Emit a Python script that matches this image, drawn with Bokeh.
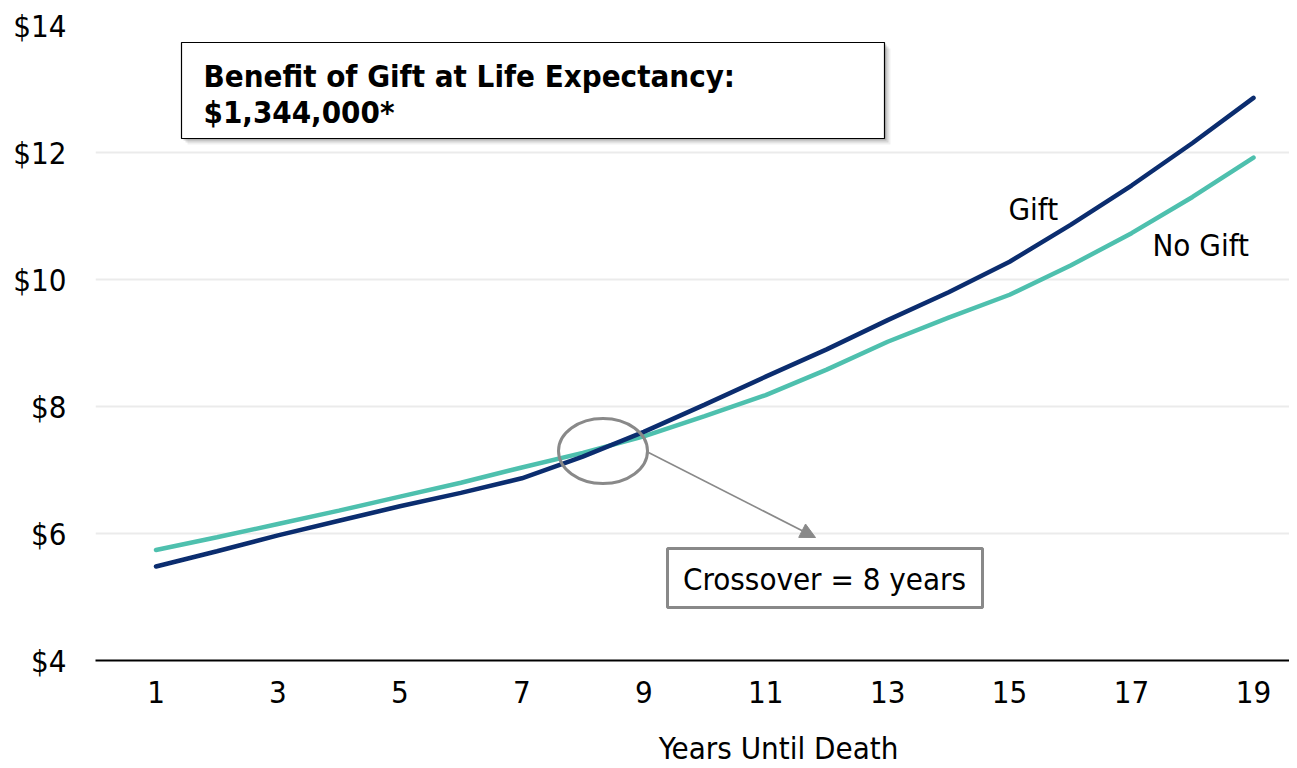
from bokeh.plotting import figure
from bokeh.models import (Range1d, FixedTicker, PrintfTickFormatter, BoxAnnotation,
                          Label, Arrow, NormalHead, LinearAxis)
from bokeh.embed import file_html
from bokeh.resources import INLINE

# ---------------- data ----------------
years = list(range(1, 20))
gift = [5.48, 5.72, 5.97, 6.20, 6.43, 6.64, 6.87, 7.21, 7.60, 8.03, 8.47,
        8.90, 9.36, 9.80, 10.28, 10.86, 11.48, 12.15, 12.86]
no_gift = [5.74, 5.94, 6.15, 6.36, 6.58, 6.80, 7.04, 7.27, 7.53, 7.85, 8.18,
           8.58, 9.02, 9.40, 9.76, 10.22, 10.73, 11.30, 11.92]
x_ticks = [1, 3, 5, 7, 9, 11, 13, 15, 17, 19]
y_ticks = [4, 6, 8, 10, 12, 14]
series_names = ["Gift", "No Gift"]
benefit_title = "Benefit of Gift at Life Expectancy:"
benefit_value = "$1,344,000*"
crossover_text = "Crossover = 8 years"
x_title = "Years Until Death"

FONT = "DejaVu Sans Condensed"
FS = "31px"
GIFT_COLOR = "#0B2D6F"
NOGIFT_COLOR = "#4EC0AE"
GRAY = "#898989"

W, H = 1289, 768
# frame edges in picture pixels
FL, FR, FT, FB = 95, 1289, 25, 660
# x=1 sits at 155.5 px, x=19 at 1253 px
X0 = 1 - (155.5 - FL) * 18 / (1253 - 155.5)
X1 = 19 + (FR - 1253) * 18 / (1253 - 155.5)
Y0, Y1 = 4, 14


def dx(px):
    return X0 + (px - FL) / (FR - FL) * (X1 - X0)


def dy(py):
    return Y0 + (FB - py) / (FB - FT) * (Y1 - Y0)


p = figure(width=W, height=H, x_range=Range1d(X0, X1), y_range=Range1d(Y0, Y1),
           output_backend="svg", toolbar_location=None,
           min_border_left=FL, min_border_right=W - FR,
           min_border_top=FT, min_border_bottom=H - FB)
p.outline_line_color = None
p.background_fill_color = "white"
p.border_fill_color = "white"

# axes
p.xaxis.ticker = FixedTicker(ticks=x_ticks)
p.xaxis.axis_line_color = "black"
p.xaxis.axis_line_width = 2
p.xaxis.major_tick_line_color = None
p.xaxis.minor_tick_line_color = None
p.xaxis.major_tick_out = 0
p.xaxis.major_tick_in = 0
p.xaxis.major_label_text_font = FONT
p.xaxis.major_label_text_font_size = FS
p.xaxis.major_label_text_color = "black"
p.xaxis.major_label_standoff = 20

# x-axis title, placed off-centre as in the reference, on a label-only axis
xc = round(dx(778), 2)
title_axis = LinearAxis(ticker=FixedTicker(ticks=[xc]),
                        major_label_overrides={xc: x_title},
                        axis_line_color=None,
                        major_tick_line_color=None, minor_tick_line_color=None,
                        major_tick_out=0, major_tick_in=0,
                        major_label_text_font=FONT, major_label_text_font_size=FS,
                        major_label_text_color="black", major_label_standoff=24)
p.add_layout(title_axis, "below")

p.yaxis.ticker = FixedTicker(ticks=y_ticks)
p.yaxis.formatter = PrintfTickFormatter(format="$%d")
p.yaxis.axis_line_color = None
p.yaxis.major_tick_line_color = None
p.yaxis.minor_tick_line_color = None
p.yaxis.major_tick_out = 0
p.yaxis.major_tick_in = 0
p.yaxis.major_label_text_font = FONT
p.yaxis.major_label_text_font_size = FS
p.yaxis.major_label_text_color = "black"
p.yaxis.major_label_standoff = 29

p.xgrid.grid_line_color = None
p.ygrid.grid_line_color = "#ebebeb"
p.ygrid.grid_line_width = 2

# lines
p.line(years, no_gift, line_color=NOGIFT_COLOR, line_width=4.5, line_cap="round")
p.line(years, gift, line_color=GIFT_COLOR, line_width=4.5, line_cap="round")

# series labels
p.add_layout(Label(x=dx(1008), y=dy(208), text=series_names[0], text_font=FONT,
                   text_font_size=FS, text_baseline="middle", text_color="black"))
p.add_layout(Label(x=dx(1152), y=dy(244), text=series_names[1], text_font=FONT,
                   text_font_size=FS, text_baseline="middle", text_color="black"))

# crossover ellipse
p.ellipse(x=[dx(602.5)], y=[dy(450.5)], width=89, height=65,
          width_units="screen", height_units="screen",
          fill_alpha=0, line_color=GRAY, line_width=3)

# arrow to the crossover box
p.add_layout(Arrow(x_start=dx(648), y_start=dy(452), x_end=dx(815), y_end=dy(537),
                   line_color=GRAY, line_width=1.6,
                   end=NormalHead(size=15, fill_color=GRAY, line_color=GRAY)))

# crossover box
p.add_layout(BoxAnnotation(left=dx(667), right=dx(982), top=dy(548), bottom=dy(607),
                           fill_color="white", fill_alpha=1, line_color=GRAY,
                           line_width=3, line_alpha=1))
p.add_layout(Label(x=dx(824), y=dy(578), text=crossover_text, text_font=FONT,
                   text_font_size=FS, text_align="center", text_baseline="middle",
                   text_color="black"))

# title box with soft shadow
for off, a in [(6, 0.06), (4, 0.10), (2, 0.16)]:
    p.add_layout(BoxAnnotation(left=dx(181 + off), right=dx(884 + off),
                               top=dy(42 + off), bottom=dy(138 + off),
                               fill_color="black", fill_alpha=a, line_color=None))
p.add_layout(BoxAnnotation(left=dx(181), right=dx(884), top=dy(42), bottom=dy(138),
                           fill_color="white", fill_alpha=1, line_color="black",
                           line_width=1.2, line_alpha=1))
p.add_layout(Label(x=dx(203), y=dy(75), text=benefit_title, text_font=FONT,
                   text_font_size=FS, text_font_style="bold",
                   text_baseline="middle", text_color="black"))
p.add_layout(Label(x=dx(203), y=dy(111), text=benefit_value, text_font=FONT,
                   text_font_size=FS, text_font_style="bold",
                   text_baseline="middle", text_color="black"))

open("out.html", "w").write(file_html(p, INLINE))
